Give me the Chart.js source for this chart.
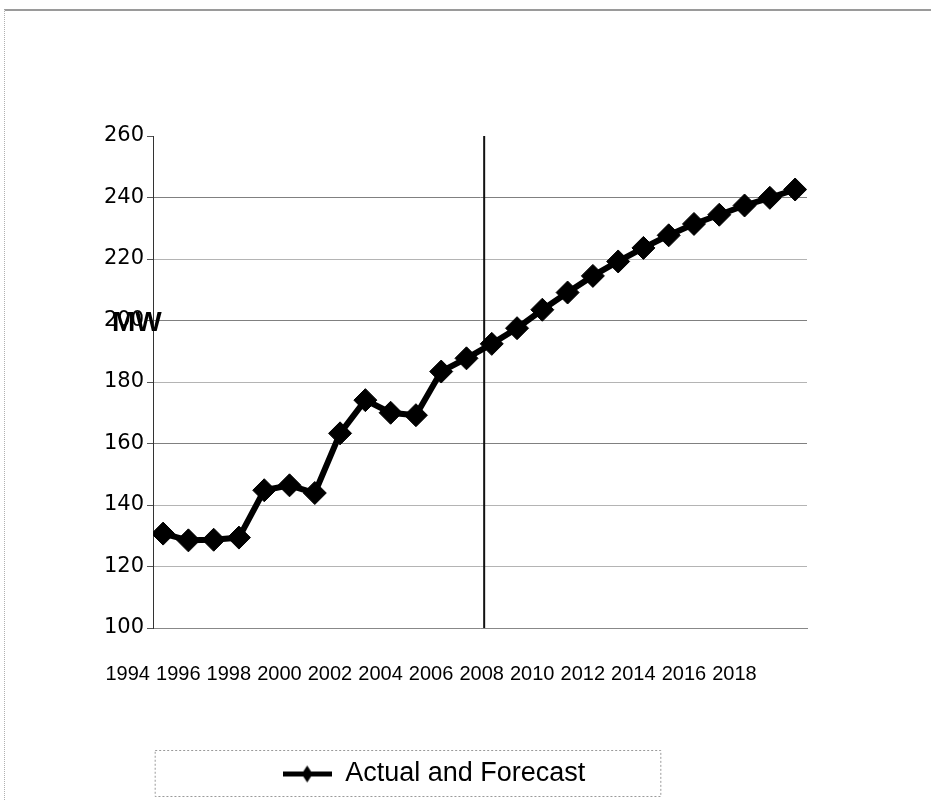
<!DOCTYPE html>
<html>
<head>
<meta charset="utf-8">
<title>Actual and Forecast</title>
<script src="https://cdn.jsdelivr.net/npm/chart.js@4.4.1/dist/chart.umd.min.js"></script>
<style>
  body { margin: 0; background: #fff; }
  #marco { position: relative; width: 931px; height: 800px; }
  #marco:before { content: ''; position: absolute; left: 4px; top: 9px; right: 0; bottom: 0;
    border-top: 2px solid #9a9a9a; border-left: 1px dotted #b0b0b0; }
  canvas { position: absolute; left: 0; top: 0; }
</style>
</head>
<body>
<div id="marco"><canvas id="grafico" width="931" height="800"></canvas></div>
<script>
// Datos
const years = [1995, 1996, 1997, 1998, 1999, 2000, 2001, 2002, 2003, 2004, 2005, 2006, 2007,
  2008, 2009, 2010, 2011, 2012, 2013, 2014, 2015, 2016, 2017, 2018, 2019, 2020];
const mw = [130.7, 128.5, 128.7, 129.4, 144.8, 146.4, 143.9, 163.3, 174.1, 170.0, 169.2, 183.4, 187.7,
  192.4, 197.5, 203.5, 209.1, 214.5, 219.2, 223.6, 227.7, 231.4, 234.4, 237.4, 239.9, 242.6];
const tickYears = [1994, 1996, 1998, 2000, 2002, 2004, 2006, 2008, 2010, 2012, 2014, 2016, 2018];
const yTicks = [100, 120, 140, 160, 180, 200, 220, 240, 260];
const splitYear = 2007.7; // separa real / pronóstico
const seriesLabel = 'Actual and Forecast';
const axisTitle = 'MW';

// Estilo
const labelShift = 0.4;   // las etiquetas quedan un poco a la izquierda de cada punto
const titleAt = 199;      // altura del título "MW" (en unidades del eje)

// Icono de la leyenda: línea con rombo
const iconoLeyenda = document.createElement('canvas');
iconoLeyenda.width = 49;
iconoLeyenda.height = 20;
(function () {
  const c = iconoLeyenda.getContext('2d');
  c.fillStyle = '#000';
  c.fillRect(0, 8, 49, 5);
  c.beginPath();
  c.moveTo(24.5, 2);
  c.lineTo(30, 10.5);
  c.lineTo(24.5, 19);
  c.lineTo(19, 10.5);
  c.closePath();
  c.fill();
})();

// Título del eje en horizontal, como en Excel
const tituloEje = {
  id: 'tituloEje',
  afterDatasetsDraw(chart) {
    const { ctx, chartArea, scales } = chart;
    ctx.save();
    ctx.font = 'bold 28px "Liberation Sans", Arial, sans-serif';
    ctx.fillStyle = '#000';
    ctx.textBaseline = 'middle';
    ctx.fillText(axisTitle, chartArea.left - 41, scales.y.getPixelForValue(titleAt));
    ctx.restore();
  }
};

// Marco punteado alrededor de la leyenda
const marcoLeyenda = {
  id: 'marcoLeyenda',
  afterDraw(chart) {
    const legend = chart.legend;
    if (!legend || !legend.legendHitBoxes.length) return;
    const hb = legend.legendHitBoxes[0];
    const ctx = chart.ctx;
    ctx.save();
    ctx.strokeStyle = '#9a9a9a';
    ctx.lineWidth = 1;
    ctx.setLineDash([2, 2]);
    const left = hb.left - 128;
    const right = hb.left + hb.width + 75;
    ctx.strokeRect(left + 0.5, legend.top + 0.5, right - left, legend.bottom - legend.top - 1);
    ctx.restore();
  }
};

const ctx = document.getElementById('grafico').getContext('2d');
new Chart(ctx, {
  type: 'line',
  data: {
    datasets: [{
      label: seriesLabel,
      data: years.map((y, i) => ({ x: y, y: mw[i] })),
      borderColor: '#000',
      backgroundColor: '#000',
      borderWidth: 6,
      tension: 0,
      pointStyle: 'rectRot',
      pointRadius: 11.5,
      pointBorderWidth: 1,
      pointBackgroundColor: '#000',
      pointBorderColor: '#000'
    }, {
      label: 'split',
      data: [{ x: splitYear, y: yTicks[0] }, { x: splitYear, y: yTicks[yTicks.length - 1] }],
      borderColor: '#111',
      borderWidth: 2,
      pointRadius: 0
    }]
  },
  options: {
    responsive: false,
    animation: false,
    layout: { padding: { left: 61, right: 124, top: 136, bottom: 3 } },
    plugins: {
      tooltip: { enabled: false },
      legend: {
        position: 'bottom',
        labels: {
          filter: item => item.datasetIndex === 0,
          usePointStyle: true,
          pointStyle: iconoLeyenda,
          pointStyleWidth: 49,
          padding: 10,
          color: '#000',
          font: { size: 27, family: '"Liberation Sans", Arial, sans-serif' }
        }
      }
    },
    scales: {
      x: {
        type: 'linear',
        min: 1994.6,
        max: 2020.47,
        afterBuildTicks: scale => {
          scale.ticks = tickYears.map(y => ({ value: y - labelShift }));
        },
        afterFit: scale => { scale.height = 122; },
        grid: { display: false },
        border: { display: true, color: '#888', width: 1 },
        ticks: {
          autoSkip: false,
          maxRotation: 0,
          padding: 26,
          color: '#000',
          font: { size: 20, family: '"Liberation Sans", Arial, sans-serif' },
          callback: (value, index) => String(tickYears[index])
        }
      },
      y: {
        min: yTicks[0],
        max: yTicks[yTicks.length - 1],
        afterBuildTicks: scale => {
          scale.ticks = yTicks.map(v => ({ value: v }));
        },
        afterFit: scale => { scale.width = 92; },
        grid: {
          color: c => {
            const v = c.tick && c.tick.value;
            if (v === 260) return 'rgba(0,0,0,0)';
            return [240, 200, 160].includes(v) ? '#808080' : '#b4b4b4';
          },
          tickColor: '#555',
          tickLength: 6
        },
        border: { display: true, color: '#333', width: 1 },
        ticks: {
          padding: 3,
          color: '#000',
          font: { size: 21, family: '"DejaVu Sans", sans-serif' }
        }
      }
    }
  },
  plugins: [tituloEje, marcoLeyenda]
});
</script>
</body>
</html>
